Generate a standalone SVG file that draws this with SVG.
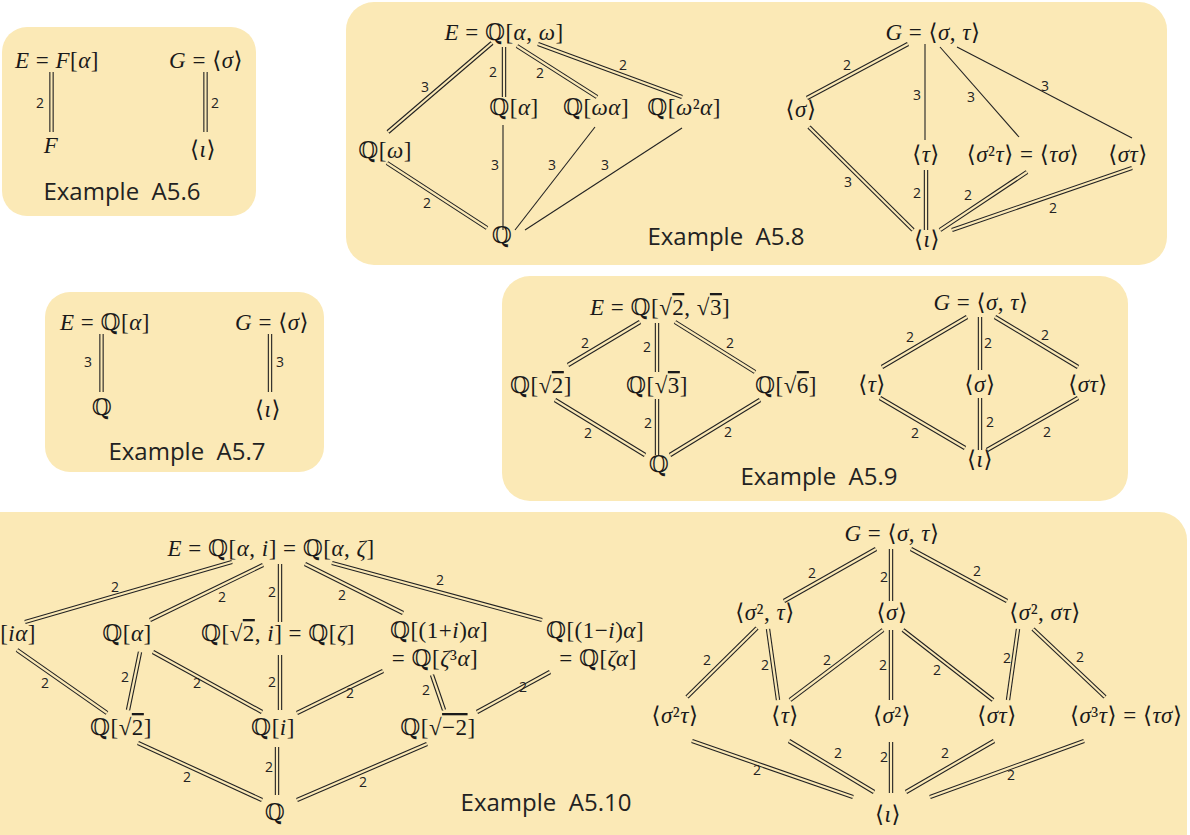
<svg xmlns="http://www.w3.org/2000/svg" width="1190" height="835" viewBox="0 0 1190 835">
<style>
.box{fill:#fbe9b6;stroke:none}
.m{font-family:"Liberation Serif","DejaVu Serif","DejaVu Sans",serif;font-size:23px;letter-spacing:0.5px;fill:#1a1a1a;text-anchor:middle}
.i{font-style:italic}
.ov{text-decoration:overline}
.lb{font-family:"Open Sans","Liberation Sans",sans-serif;font-size:14px;fill:#222;text-anchor:middle}
.ex{font-family:"Open Sans","Liberation Sans",sans-serif;font-size:24px;fill:#222;text-anchor:middle}
.s{stroke:#222;stroke-width:1.1;fill:none}
.o{stroke:#222;stroke-width:4.4;fill:none}
.n{stroke:#fbe9b6;stroke-width:2.2;fill:none}
</style>
<rect width="1190" height="835" fill="#ffffff"/>
<g id="panels">
<rect class="box" x="2" y="27" width="254" height="189" rx="25"/>
<rect class="box" x="45" y="292" width="279" height="180" rx="25"/>
<rect class="box" x="346" y="2" width="821" height="263" rx="28"/>
<rect class="box" x="502" y="276" width="626" height="225" rx="28"/>
<rect class="box" x="-30" y="512" width="1217" height="360" rx="28"/>
</g>
<g id="connectors">
<!-- A5.6 -->
<line class="o" x1="51.5" y1="72" x2="51.5" y2="132"/><line class="n" x1="51.5" y1="72" x2="51.5" y2="132"/>
<text class="lb" x="40" y="108">2</text>
<line class="o" x1="205.5" y1="72" x2="205.5" y2="132"/><line class="n" x1="205.5" y1="72" x2="205.5" y2="132"/>
<text class="lb" x="215" y="108">2</text>
<!-- A5.7 -->
<line class="o" x1="101.5" y1="334" x2="101.5" y2="392"/><line class="n" x1="101.5" y1="334" x2="101.5" y2="392"/>
<text class="lb" x="88" y="367">3</text>
<line class="o" x1="270" y1="334" x2="270" y2="392"/><line class="n" x1="270" y1="334" x2="270" y2="392"/>
<text class="lb" x="280" y="367">3</text>
<!-- A5.8 left -->
<line class="o" x1="492" y1="43" x2="388" y2="132"/><line class="n" x1="492" y1="43" x2="388" y2="132"/>
<text class="lb" x="425" y="92">3</text>
<line class="o" x1="504" y1="47" x2="504" y2="97"/><line class="n" x1="504" y1="47" x2="504" y2="97"/>
<text class="lb" x="493" y="77">2</text>
<line class="o" x1="517" y1="46" x2="597" y2="97"/><line class="n" x1="517" y1="46" x2="597" y2="97"/>
<text class="lb" x="540" y="78">2</text>
<line class="o" x1="538" y1="44" x2="682" y2="97"/><line class="n" x1="538" y1="44" x2="682" y2="97"/>
<text class="lb" x="623" y="70">2</text>
<line class="s" x1="503" y1="125" x2="503" y2="230"/>
<text class="lb" x="495" y="170">3</text>
<line class="s" x1="595" y1="127" x2="515" y2="230"/>
<text class="lb" x="552" y="170">3</text>
<line class="s" x1="682" y1="128" x2="525" y2="230"/>
<text class="lb" x="605" y="170">3</text>
<line class="o" x1="387" y1="163" x2="487" y2="228"/><line class="n" x1="387" y1="163" x2="487" y2="228"/>
<text class="lb" x="427" y="208">2</text>
<!-- A5.8 right -->
<line class="o" x1="908" y1="44" x2="807" y2="98"/><line class="n" x1="908" y1="44" x2="807" y2="98"/>
<text class="lb" x="847" y="70">2</text>
<line class="s" x1="925" y1="44" x2="925" y2="140"/>
<text class="lb" x="917" y="100">3</text>
<line class="s" x1="940" y1="47" x2="1019" y2="137"/>
<text class="lb" x="971" y="102">3</text>
<line class="s" x1="957" y1="47" x2="1132" y2="138"/>
<text class="lb" x="1045" y="91">3</text>
<line class="o" x1="809" y1="127" x2="913" y2="230"/><line class="n" x1="809" y1="127" x2="913" y2="230"/>
<text class="lb" x="848" y="187">3</text>
<line class="o" x1="926" y1="170" x2="926" y2="230"/><line class="n" x1="926" y1="170" x2="926" y2="230"/>
<text class="lb" x="917" y="198">2</text>
<line class="o" x1="1027" y1="172" x2="940" y2="230"/><line class="n" x1="1027" y1="172" x2="940" y2="230"/>
<text class="lb" x="968" y="200">2</text>
<line class="o" x1="1132" y1="168" x2="952" y2="230"/><line class="n" x1="1132" y1="168" x2="952" y2="230"/>
<text class="lb" x="1053" y="213">2</text>
<!-- A5.9 left -->
<line class="o" x1="640" y1="322" x2="568" y2="365"/><line class="n" x1="640" y1="322" x2="568" y2="365"/>
<text class="lb" x="585" y="348">2</text>
<line class="o" x1="657" y1="323" x2="657" y2="372"/><line class="n" x1="657" y1="323" x2="657" y2="372"/>
<text class="lb" x="647" y="352">2</text>
<line class="o" x1="675" y1="322" x2="755" y2="372"/><line class="n" x1="675" y1="322" x2="755" y2="372"/>
<text class="lb" x="730" y="348">2</text>
<line class="o" x1="555" y1="400" x2="645" y2="455"/><line class="n" x1="555" y1="400" x2="645" y2="455"/>
<text class="lb" x="588" y="438">2</text>
<line class="o" x1="657" y1="399" x2="657" y2="455"/><line class="n" x1="657" y1="399" x2="657" y2="455"/>
<text class="lb" x="648" y="428">2</text>
<line class="o" x1="760" y1="400" x2="670" y2="455"/><line class="n" x1="760" y1="400" x2="670" y2="455"/>
<text class="lb" x="728" y="437">2</text>
<!-- A5.9 right -->
<line class="o" x1="967" y1="317" x2="882" y2="367"/><line class="n" x1="967" y1="317" x2="882" y2="367"/>
<text class="lb" x="910" y="342">2</text>
<line class="o" x1="980" y1="317" x2="980" y2="370"/><line class="n" x1="980" y1="317" x2="980" y2="370"/>
<text class="lb" x="988" y="348">2</text>
<line class="o" x1="995" y1="317" x2="1078" y2="367"/><line class="n" x1="995" y1="317" x2="1078" y2="367"/>
<text class="lb" x="1045" y="340">2</text>
<line class="o" x1="880" y1="398" x2="965" y2="448"/><line class="n" x1="880" y1="398" x2="965" y2="448"/>
<text class="lb" x="915" y="438">2</text>
<line class="o" x1="980" y1="398" x2="980" y2="450"/><line class="n" x1="980" y1="398" x2="980" y2="450"/>
<text class="lb" x="990" y="427">2</text>
<line class="o" x1="1078" y1="398" x2="987" y2="450"/><line class="n" x1="1078" y1="398" x2="987" y2="450"/>
<text class="lb" x="1047" y="437">2</text>
<!-- A5.10 left -->
<line class="o" x1="232" y1="562" x2="25" y2="622"/><line class="n" x1="232" y1="562" x2="25" y2="622"/>
<text class="lb" x="115" y="592">2</text>
<line class="o" x1="263" y1="565" x2="150" y2="620"/><line class="n" x1="263" y1="565" x2="150" y2="620"/>
<text class="lb" x="222" y="602">2</text>
<line class="o" x1="280" y1="564" x2="280" y2="622"/><line class="n" x1="280" y1="564" x2="280" y2="622"/>
<text class="lb" x="272" y="597">2</text>
<line class="o" x1="305" y1="564" x2="403" y2="613"/><line class="n" x1="305" y1="564" x2="403" y2="613"/>
<text class="lb" x="342" y="600">2</text>
<line class="o" x1="332" y1="563" x2="542" y2="620"/><line class="n" x1="332" y1="563" x2="542" y2="620"/>
<text class="lb" x="440" y="585">2</text>
<line class="o" x1="17" y1="650" x2="107" y2="713"/><line class="n" x1="17" y1="650" x2="107" y2="713"/>
<text class="lb" x="45" y="688">2</text>
<line class="o" x1="140" y1="652" x2="128" y2="710"/><line class="n" x1="140" y1="652" x2="128" y2="710"/>
<text class="lb" x="125" y="682">2</text>
<line class="o" x1="153" y1="652" x2="262" y2="712"/><line class="n" x1="153" y1="652" x2="262" y2="712"/>
<text class="lb" x="197" y="688">2</text>
<line class="o" x1="280" y1="655" x2="280" y2="710"/><line class="n" x1="280" y1="655" x2="280" y2="710"/>
<text class="lb" x="272" y="687">2</text>
<line class="o" x1="383" y1="671" x2="297" y2="713"/><line class="n" x1="383" y1="671" x2="297" y2="713"/>
<text class="lb" x="350" y="698">2</text>
<line class="o" x1="432" y1="675" x2="444" y2="710"/><line class="n" x1="432" y1="675" x2="444" y2="710"/>
<text class="lb" x="426" y="695">2</text>
<line class="o" x1="550" y1="672" x2="477" y2="712"/><line class="n" x1="550" y1="672" x2="477" y2="712"/>
<text class="lb" x="523" y="692">2</text>
<line class="o" x1="138" y1="743" x2="262" y2="800"/><line class="n" x1="138" y1="743" x2="262" y2="800"/>
<text class="lb" x="187" y="782">2</text>
<line class="o" x1="277" y1="747" x2="277" y2="795"/><line class="n" x1="277" y1="747" x2="277" y2="795"/>
<text class="lb" x="269" y="772">2</text>
<line class="o" x1="427" y1="744" x2="297" y2="800"/><line class="n" x1="427" y1="744" x2="297" y2="800"/>
<text class="lb" x="363" y="787">2</text>
<!-- A5.10 right -->
<line class="o" x1="876" y1="549" x2="784" y2="601"/><line class="n" x1="876" y1="549" x2="784" y2="601"/>
<text class="lb" x="812" y="578">2</text>
<line class="o" x1="891" y1="549" x2="891" y2="601"/><line class="n" x1="891" y1="549" x2="891" y2="601"/>
<text class="lb" x="884" y="582">2</text>
<line class="o" x1="911" y1="549" x2="1007" y2="601"/><line class="n" x1="911" y1="549" x2="1007" y2="601"/>
<text class="lb" x="977" y="576">2</text>
<line class="o" x1="757" y1="628" x2="687" y2="697"/><line class="n" x1="757" y1="628" x2="687" y2="697"/>
<text class="lb" x="707" y="665">2</text>
<line class="o" x1="768" y1="629" x2="778" y2="700"/><line class="n" x1="768" y1="629" x2="778" y2="700"/>
<text class="lb" x="765" y="670">2</text>
<line class="o" x1="883" y1="630" x2="790" y2="700"/><line class="n" x1="883" y1="630" x2="790" y2="700"/>
<text class="lb" x="827" y="665">2</text>
<line class="o" x1="891" y1="630" x2="891" y2="700"/><line class="n" x1="891" y1="630" x2="891" y2="700"/>
<text class="lb" x="883" y="670">2</text>
<line class="o" x1="903" y1="630" x2="993" y2="700"/><line class="n" x1="903" y1="630" x2="993" y2="700"/>
<text class="lb" x="937" y="675">2</text>
<line class="o" x1="1018" y1="629" x2="1008" y2="700"/><line class="n" x1="1018" y1="629" x2="1008" y2="700"/>
<text class="lb" x="1007" y="663">2</text>
<line class="o" x1="1033" y1="629" x2="1105" y2="697"/><line class="n" x1="1033" y1="629" x2="1105" y2="697"/>
<text class="lb" x="1080" y="662">2</text>
<line class="o" x1="692" y1="741" x2="853" y2="797"/><line class="n" x1="692" y1="741" x2="853" y2="797"/>
<text class="lb" x="757" y="775">2</text>
<line class="o" x1="789" y1="741" x2="874" y2="792"/><line class="n" x1="789" y1="741" x2="874" y2="792"/>
<text class="lb" x="838" y="758">2</text>
<line class="o" x1="891" y1="742" x2="891" y2="793"/><line class="n" x1="891" y1="742" x2="891" y2="793"/>
<text class="lb" x="884" y="762">2</text>
<line class="o" x1="994" y1="741" x2="906" y2="792"/><line class="n" x1="994" y1="741" x2="906" y2="792"/>
<text class="lb" x="945" y="758">2</text>
<line class="o" x1="1084" y1="741" x2="930" y2="797"/><line class="n" x1="1084" y1="741" x2="930" y2="797"/>
<text class="lb" x="1011" y="780">2</text>
</g>
<!-- A5.6 nodes -->
<g id="a56-E"><text class="m" x="57" y="68"><tspan class="i">E</tspan> = <tspan class="i">F</tspan>[<tspan class="i">α</tspan>]</text></g>
<g id="a56-F"><text class="m" x="51" y="153"><tspan class="i">F</tspan></text></g>
<g id="a56-G"><text class="m" x="206" y="68"><tspan class="i">G</tspan> = ⟨<tspan class="i">σ</tspan>⟩</text></g>
<g id="a56-id"><text class="m" x="203" y="157">⟨<tspan class="i">ι</tspan>⟩</text></g>
<g id="a56-title"><text class="ex" x="122" y="200">Example&#160; A5.6</text></g>
<!-- A5.7 nodes -->
<g id="a57-E"><text class="m" x="105" y="330"><tspan class="i">E</tspan> = ℚ[<tspan class="i">α</tspan>]</text></g>
<g id="a57-Q"><text class="m" x="102" y="415">ℚ</text></g>
<g id="a57-G"><text class="m" x="272" y="330"><tspan class="i">G</tspan> = ⟨<tspan class="i">σ</tspan>⟩</text></g>
<g id="a57-id"><text class="m" x="268" y="417">⟨<tspan class="i">ι</tspan>⟩</text></g>
<g id="a57-title"><text class="ex" x="187" y="460">Example&#160; A5.7</text></g>
<!-- A5.8 nodes -->
<g id="a58-E"><text class="m" x="504" y="40"><tspan class="i">E</tspan> = ℚ[<tspan class="i">α</tspan>, <tspan class="i">ω</tspan>]</text></g>
<g id="a58-Qa"><text class="m" x="514" y="115">ℚ[<tspan class="i">α</tspan>]</text></g>
<g id="a58-Qwa"><text class="m" x="596" y="115">ℚ[<tspan class="i">ωα</tspan>]</text></g>
<g id="a58-Qw2a"><text class="m" x="684" y="115">ℚ[<tspan class="i">ω</tspan>²<tspan class="i">α</tspan>]</text></g>
<g id="a58-Qw"><text class="m" x="385" y="158">ℚ[<tspan class="i">ω</tspan>]</text></g>
<g id="a58-Q"><text class="m" x="502" y="243">ℚ</text></g>
<g id="a58-G"><text class="m" x="933" y="40"><tspan class="i">G</tspan> = ⟨<tspan class="i">σ</tspan>, <tspan class="i">τ</tspan>⟩</text></g>
<g id="a58-s"><text class="m" x="801" y="117">⟨<tspan class="i">σ</tspan>⟩</text></g>
<g id="a58-t"><text class="m" x="926" y="162">⟨<tspan class="i">τ</tspan>⟩</text></g>
<g id="a58-s2t"><text class="m" x="1023" y="162">⟨<tspan class="i">σ</tspan>²<tspan class="i">τ</tspan>⟩ = ⟨<tspan class="i">τσ</tspan>⟩</text></g>
<g id="a58-st"><text class="m" x="1128" y="162">⟨<tspan class="i">στ</tspan>⟩</text></g>
<g id="a58-id"><text class="m" x="927" y="247">⟨<tspan class="i">ι</tspan>⟩</text></g>
<g id="a58-title"><text class="ex" x="726" y="245">Example&#160; A5.8</text></g>
<!-- A5.9 nodes -->
<g id="a59-E"><text class="m" x="660" y="315"><tspan class="i">E</tspan> = ℚ[√<tspan class="ov">2</tspan>, √<tspan class="ov">3</tspan>]</text></g>
<g id="a59-Q2"><text class="m" x="541" y="393">ℚ[√<tspan class="ov">2</tspan>]</text></g>
<g id="a59-Q3"><text class="m" x="657" y="393">ℚ[√<tspan class="ov">3</tspan>]</text></g>
<g id="a59-Q6"><text class="m" x="786" y="393">ℚ[√<tspan class="ov">6</tspan>]</text></g>
<g id="a59-Q"><text class="m" x="659" y="472">ℚ</text></g>
<g id="a59-G"><text class="m" x="981" y="310"><tspan class="i">G</tspan> = ⟨<tspan class="i">σ</tspan>, <tspan class="i">τ</tspan>⟩</text></g>
<g id="a59-t"><text class="m" x="872" y="392">⟨<tspan class="i">τ</tspan>⟩</text></g>
<g id="a59-s"><text class="m" x="980" y="392">⟨<tspan class="i">σ</tspan>⟩</text></g>
<g id="a59-st"><text class="m" x="1088" y="392">⟨<tspan class="i">στ</tspan>⟩</text></g>
<g id="a59-id"><text class="m" x="980" y="467">⟨<tspan class="i">ι</tspan>⟩</text></g>
<g id="a59-title"><text class="ex" x="819" y="485">Example&#160; A5.9</text></g>
<!-- A5.10 nodes -->
<g id="a510-E"><text class="m" x="271" y="556"><tspan class="i">E</tspan> = ℚ[<tspan class="i">α</tspan>, <tspan class="i">i</tspan>] = ℚ[<tspan class="i">α</tspan>, <tspan class="i">ζ</tspan>]</text></g>
<g id="a510-Qia"><text class="m" x="36" y="641" style="text-anchor:end">ℚ[<tspan class="i">iα</tspan>]</text></g>
<g id="a510-Qa"><text class="m" x="127" y="641">ℚ[<tspan class="i">α</tspan>]</text></g>
<g id="a510-Qz"><text class="m" x="278" y="641">ℚ[√<tspan class="ov">2</tspan>, <tspan class="i">i</tspan>] = ℚ[<tspan class="i">ζ</tspan>]</text></g>
<g id="a510-Q1pi"><text class="m" x="439" y="638">ℚ[(1+<tspan class="i">i</tspan>)<tspan class="i">α</tspan>]</text><text class="m" x="435" y="666">= ℚ[<tspan class="i">ζ</tspan>³<tspan class="i">α</tspan>]</text></g>
<g id="a510-Q1mi"><text class="m" x="595" y="638">ℚ[(1−<tspan class="i">i</tspan>)<tspan class="i">α</tspan>]</text><text class="m" x="598" y="666">= ℚ[<tspan class="i">ζα</tspan>]</text></g>
<g id="a510-Qr2"><text class="m" x="121" y="735">ℚ[√<tspan class="ov">2</tspan>]</text></g>
<g id="a510-Qi"><text class="m" x="273" y="735">ℚ[<tspan class="i">i</tspan>]</text></g>
<g id="a510-Qrm2"><text class="m" x="438" y="735">ℚ[√<tspan class="ov">−2</tspan>]</text></g>
<g id="a510-Q"><text class="m" x="275" y="820">ℚ</text></g>
<g id="a510-G"><text class="m" x="892" y="541"><tspan class="i">G</tspan> = ⟨<tspan class="i">σ</tspan>, <tspan class="i">τ</tspan>⟩</text></g>
<g id="a510-s2t-pair"><text class="m" x="765" y="620">⟨<tspan class="i">σ</tspan>², <tspan class="i">τ</tspan>⟩</text></g>
<g id="a510-s"><text class="m" x="892" y="620">⟨<tspan class="i">σ</tspan>⟩</text></g>
<g id="a510-s2st"><text class="m" x="1045" y="620">⟨<tspan class="i">σ</tspan>², <tspan class="i">στ</tspan>⟩</text></g>
<g id="a510-s2t"><text class="m" x="675" y="723">⟨<tspan class="i">σ</tspan>²<tspan class="i">τ</tspan>⟩</text></g>
<g id="a510-t"><text class="m" x="785" y="723">⟨<tspan class="i">τ</tspan>⟩</text></g>
<g id="a510-s2"><text class="m" x="892" y="723">⟨<tspan class="i">σ</tspan>²⟩</text></g>
<g id="a510-st"><text class="m" x="997" y="723">⟨<tspan class="i">στ</tspan>⟩</text></g>
<g id="a510-s3t"><text class="m" x="1070" y="723" style="text-anchor:start">⟨<tspan class="i">σ</tspan>³<tspan class="i">τ</tspan>⟩ = ⟨<tspan class="i">τσ</tspan>⟩</text></g>
<g id="a510-id"><text class="m" x="888" y="822">⟨<tspan class="i">ι</tspan>⟩</text></g>
<g id="a510-title"><text class="ex" x="546" y="811">Example&#160; A5.10</text></g>
</svg>
